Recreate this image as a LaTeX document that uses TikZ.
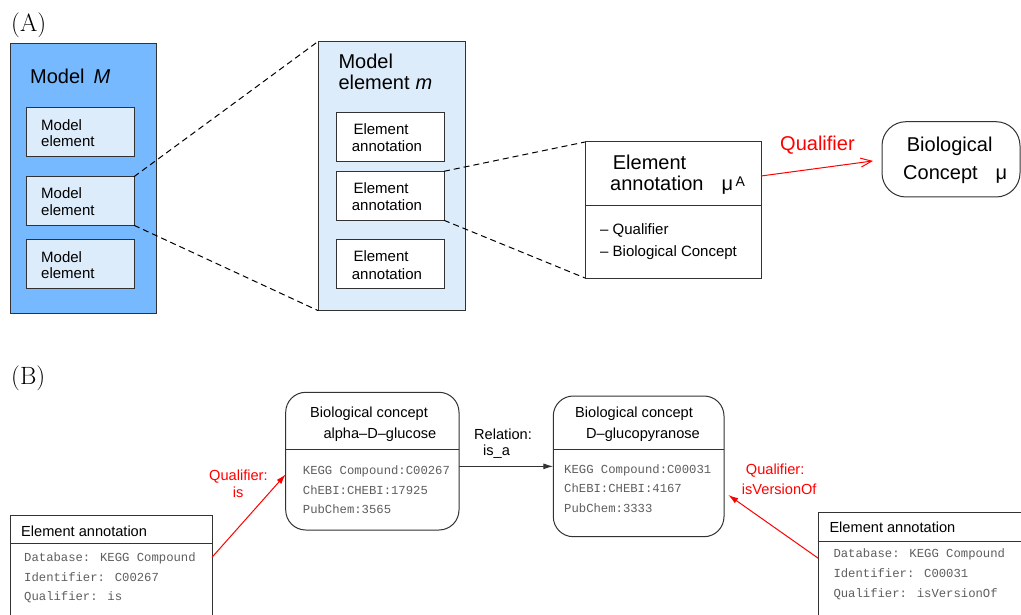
\documentclass[tikz,border=0pt]{standalone}
\usepackage{fontspec}
\newfontfamily\sansf{Liberation Sans}
\newfontfamily\monof{Liberation Mono}
\usetikzlibrary{arrows.meta,calc}

\definecolor{mblue}{RGB}{118,185,255}
\definecolor{lblue}{RGB}{221,236,251}
\definecolor{bord}{RGB}{50,50,50}
\definecolor{monogray}{RGB}{95,95,95}
\definecolor{qred}{RGB}{255,0,0}

\tikzset{
  box/.style={draw=bord, line width=1pt, inner sep=0pt, outer sep=0pt, anchor=north west},
  roundbox/.style={box, rounded corners=#1},
  divider/.style={draw=bord, line width=1pt},
  txt/.style={inner sep=0pt, anchor=base west, font=\sansf\fontsize{15}{18}\selectfont},
  bigtxt/.style={txt, font=\sansf\fontsize{20}{24}\selectfont},
  smalltxt/.style={txt, font=\sansf\fontsize{14.6}{18}\selectfont},
  monotxt/.style={inner sep=0pt, anchor=base west, text=monogray, font=\monof\fontsize{12.25}{14}\selectfont},
  panel/.style={inner sep=0pt, anchor=base west, font=\fontsize{25}{30}\selectfont},
  zoomline/.style={draw=black, line width=1pt, dash pattern=on 6pt off 4pt},
  qualarrow/.style={draw=qred, line width=1pt},
}

\begin{document}
\begin{tikzpicture}[x=1pt,y=-1pt]
\clip (0,0) rectangle (1021,615);

% ---------------- (A) ----------------
\node[panel] (labA) at (11,31.7) {(A)};

% model M and its elements
\node[box, fill=mblue, minimum width=146.7pt, minimum height=269.3pt] (M) at (10,44) {};
\node[bigtxt] (tM) at (30,83.3) {Model\hspace{9pt}\textit{M}};
\node[box, fill=lblue, minimum width=108pt, minimum height=49.3pt] (me1) at (26,107.3) {};
\node[box, fill=lblue, minimum width=108pt, minimum height=48.6pt] (me2) at (26,176.7) {};
\node[box, fill=lblue, minimum width=108pt, minimum height=49pt] (me3) at (26,239.3) {};
\node[txt] (tme1a) at (41,131) {Model};
\node[txt] (tme1b) at (41,147) {element};
\node[txt] (tme2a) at (41,199) {Model};
\node[txt] (tme2b) at (41,215) {element};
\node[txt] (tme3a) at (41,262.3) {Model};
\node[txt] (tme3b) at (41,278.3) {element};

% model element m and its annotations
\node[box, fill=lblue, minimum width=146.7pt, minimum height=269.4pt] (mm) at (318.3,41.3) {};
\node[bigtxt] (tmma) at (338.3,68.3) {Model};
\node[bigtxt] (tmmb) at (338.3,90) {element\hspace{6pt}\textit{m}};
\node[box, fill=white, minimum width=108pt, minimum height=49pt] (ann1) at (336,112.7) {};
\node[box, fill=white, minimum width=108pt, minimum height=49pt] (ann2) at (336,171.3) {};
\node[box, fill=white, minimum width=108pt, minimum height=49pt] (ann3) at (336,239.3) {};
\node[txt] (tan1a) at (353.3,134.3) {Element};
\node[txt] (tan1b) at (351.7,151.7) {annotation};
\node[txt] (tan2a) at (353.3,193.3) {Element};
\node[txt] (tan2b) at (351.7,210.7) {annotation};
\node[txt] (tan3a) at (353.3,261.7) {Element};
\node[txt] (tan3b) at (351.7,279) {annotation};

% element annotation mu^A
\node[box, fill=white, minimum width=176pt, minimum height=136pt] (ea) at (585,142) {};
\draw[divider] (ea.west |- 0,206) -- (ea.east |- 0,206);
\node[bigtxt] (tea1) at (612.7,170) {Element};
\node[bigtxt] (tea2) at (610,191) {annotation\hspace{18pt}μ\hspace{2.5pt}\raisebox{4.5pt}{\fontsize{14}{14}\selectfont A}};
\node[txt] (tea3) at (600,234) {– Qualifier};
\node[txt] (tea4) at (600,256) {– Biological Concept};

% biological concept mu
\node[roundbox=24pt, fill=white, minimum width=138pt, minimum height=75.3pt] (bc) at (882,121.7) {};
\node[bigtxt] (tbc1) at (906.7,151.7) {Biological};
\node[bigtxt] (tbc2) at (903,180) {Concept\hspace{18pt}μ};

% zoom lines
\draw[zoomline] (me2.north east) -- (mm.north west);
\draw[zoomline] (me2.south east) -- (mm.south west);
\draw[zoomline] (ann2.north east) -- (ea.north west);
\draw[zoomline] (ann2.south east) -- (ea.south west);

% qualifier
\draw[qualarrow, -{Straight Barb[length=11pt,width=9pt]}]
  ([yshift=-34pt]ea.north east) -- ([xshift=-9pt,yshift=-1.6pt]bc.west);
\node[bigtxt, text=qred] (tq) at (780,150.7) {Qualifier};

% ---------------- (B) ----------------
\node[panel] (labB) at (11,384) {(B)};

% biological concept alpha-D-glucose
\node[roundbox=20pt, fill=white, minimum width=173.3pt, minimum height=137.7pt] (bc1) at (285.7,392.3) {};
\draw[divider] (bc1.west |- 0,449) -- (bc1.east |- 0,449);
\node[smalltxt] (tb1a) at (310,417.3) {Biological concept};
\node[smalltxt] (tb1b) at (323.3,438.3) {alpha–D–glucose};
\node[monotxt] (tb1c) at (302.7,474.3) {KEGG Compound:C00267};
\node[monotxt] (tb1d) at (302.7,494) {ChEBI:CHEBI:17925};
\node[monotxt] (tb1e) at (302.7,513.3) {PubChem:3565};

% biological concept D-glucopyranose
\node[roundbox=20pt, fill=white, minimum width=170.7pt, minimum height=140.7pt] (bc2) at (553.3,396) {};
\draw[divider] (bc2.west |- 0,449.3) -- (bc2.east |- 0,449.3);
\node[smalltxt] (tb2a) at (575,417.3) {Biological concept};
\node[smalltxt] (tb2b) at (586,438.3) {D–glucopyranose};
\node[monotxt] (tb2c) at (564,473.3) {KEGG Compound:C00031};
\node[monotxt] (tb2d) at (564,492.7) {ChEBI:CHEBI:4167};
\node[monotxt] (tb2e) at (564,512.7) {PubChem:3333};

% relation
\draw[line width=1.1pt, draw=bord, -{Latex[length=10pt,width=6pt]}] (bc1.east |- bc2.west) -- (bc2.west);
\node[smalltxt] (trel1) at (474,439) {Relation:};
\node[smalltxt] (trel2) at (483,455.7) {is\_a};

% element annotation (left)
\node[box, fill=white, minimum width=202pt, minimum height=130pt] (ea1) at (10,515.7) {};
\draw[divider] (ea1.west |- 0,543.3) -- (ea1.east |- 0,543.3);
\node[smalltxt] (te1a) at (21,536.7) {Element annotation};
\node[monotxt] (te1b) at (24,561.7) {Database: KEGG Compound};
\node[monotxt] (te1c) at (24,581.7) {Identifier: C00267};
\node[monotxt] (te1d) at (24,600.7) {Qualifier: is};

\draw[qualarrow, -{Latex[length=10pt,width=6pt]}]
  ([yshift=-41.6pt]ea1.north east) -- ([yshift=-13.2pt]bc1.west);
\node[smalltxt, text=qred] (tq1a) at (209,480.7) {Qualifier:};
\node[smalltxt, text=qred] (tq1b) at (232.7,497.3) {is};

% element annotation (right)
\node[box, fill=white, minimum width=240pt, minimum height=130pt] (ea2) at (818.3,512.3) {};
\draw[divider] (ea2.west |- 0,541) -- (ea2.east |- 0,541);
\node[smalltxt] (te2a) at (829.3,532.7) {Element annotation};
\node[monotxt] (te2b) at (833.3,557.7) {Database: KEGG Compound};
\node[monotxt] (te2c) at (833.3,577.7) {Identifier: C00031};
\node[monotxt] (te2d) at (833.3,597.3) {Qualifier: isVersionOf};

\draw[qualarrow, -{Latex[length=10pt,width=6pt]}]
  ([yshift=-46pt]ea2.north west) -- ([xshift=4.3pt,yshift=-28.6pt]bc2.east);
\node[smalltxt, text=qred] (tq2a) at (745.7,474) {Qualifier:};
\node[smalltxt, text=qred] (tq2b) at (741.7,494) {isVersionOf};
\end{tikzpicture}
\end{document}
